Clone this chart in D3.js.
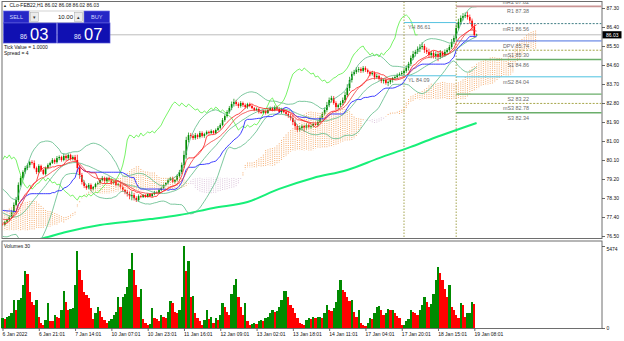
<!DOCTYPE html>
<html>
<head>
<meta charset="utf-8">
<script src="https://cdn.jsdelivr.net/npm/d3@7"></script>
<style>
body { margin: 0; background: #fff; }
svg { display: block; font-family: "Liberation Sans", Arial, sans-serif; }
</style>
</head>
<body>
<svg id="chart" width="624" height="341"></svg>
<script>
// hourly bars before the visible window (only feed the indicators)
const preCloses = [
    75.62, 75.55, 75.48, 75.40, 75.35, 75.28, 75.22, 75.30, 75.25, 75.18,
    75.25, 75.12, 75.05, 75.15, 75.10, 75.22, 75.35, 75.30, 75.22, 75.38,
    75.45, 75.40, 75.52, 75.60, 75.55, 75.70, 75.82, 75.78, 75.95, 76.10,
    76.25, 76.40, 76.55, 76.70, 76.85, 77.00, 77.15, 77.30, 77.45, 77.58,
    77.70, 77.78, 77.85, 77.92, 78.02, 77.95, 78.08, 78.15, 78.22, 78.30,
    78.25, 78.36, 78.42, 78.50, 78.44, 78.38, 78.45, 78.30, 78.22, 78.35,
    78.28, 78.40, 78.32, 78.20, 78.25, 78.10, 78.02, 77.85, 77.60, 77.40,
    77.22, 77.05, 76.98, 77.10, 77.02, 76.92, 77.00, 77.08
];

const closes = [
    77.03, 77.17, 77.26, 77.40, 77.64, 77.97, 78.20, 78.92, 79.25, 79.53,
    79.72, 79.86, 80.00, 79.96, 79.72, 79.53, 79.82, 79.63, 79.44, 79.72,
    79.86, 79.96, 80.10, 80.00, 80.19, 80.24, 80.10, 80.29, 80.19, 80.34,
    80.15, 80.24, 80.10, 79.72, 79.39, 79.06, 78.87, 78.77, 78.92, 78.72,
    78.82, 78.96, 79.01, 79.15, 79.25, 79.10, 79.25, 79.15, 79.01, 79.06,
    78.92, 78.96, 78.82, 78.68, 78.58, 78.49, 78.39, 78.44, 78.30, 78.20,
    78.39, 78.35, 78.44, 78.35, 78.49, 78.39, 78.49, 78.58, 78.54, 78.68,
    78.77, 78.92, 79.01, 79.15, 79.25, 79.06, 79.15, 79.34, 79.53, 79.86,
    80.34, 81.05, 81.28, 81.24, 81.14, 81.28, 81.19, 81.38, 81.24, 81.33,
    81.43, 81.38, 81.47, 81.38, 81.52, 81.62, 81.76, 81.99, 82.18, 82.37,
    82.56, 82.75, 82.85, 82.75, 82.66, 82.80, 82.70, 82.61, 82.75, 82.66,
    82.56, 82.47, 82.52, 82.37, 82.33, 82.42, 82.33, 82.47, 82.56, 82.47,
    82.61, 82.52, 82.37, 82.47, 82.37, 82.28, 82.18, 82.09, 81.90, 81.71,
    81.52, 81.62, 81.71, 81.62, 81.76, 81.66, 81.71, 81.81, 81.76, 81.90,
    82.09, 82.28, 82.47, 82.70, 82.94, 83.04, 82.80, 82.61, 82.70, 82.80,
    82.94, 83.18, 83.51, 83.89, 84.17, 84.27, 84.36, 84.41, 84.32, 84.46,
    84.36, 84.27, 84.17, 84.22, 84.03, 84.08, 83.94, 83.84, 83.89, 83.75,
    83.79, 83.89, 83.98, 84.03, 84.13, 84.17, 84.22, 84.32, 84.46, 84.65,
    84.93, 85.12, 85.22, 85.36, 85.45, 85.50, 85.31, 85.22, 85.07, 85.17,
    85.03, 85.12, 84.98, 85.17, 85.07, 85.22, 85.31, 85.45, 85.69, 85.88,
    86.35, 86.64, 86.83, 86.92, 86.97, 86.87, 86.70, 86.42, 86.02, 86.03
];

// wicks above / below the body, in cents
const wickUp = [
    4, 5, 6, 8, 10, 12, 15, 12, 10, 8,   10, 8, 6, 9, 12, 7, 8, 6, 5, 7,
    8, 6, 9, 7, 10, 8, 6, 12, 8, 7,      6, 8, 10, 25, 15, 10, 8, 6, 9, 7,
    5, 6, 8, 7, 9, 6, 5, 7, 6, 8,        6, 5, 7, 8, 6, 10, 12, 18, 10, 8,
    8, 6, 5, 4, 3, 4, 6, 5, 4, 6,        5, 6, 4, 7, 5, 6, 4, 8, 10, 12,
    20, 15, 12, 10, 8, 10, 7, 9, 8, 6,   7, 6, 8, 5, 7, 9, 8, 10, 8, 9,
    10, 12, 15, 10, 8, 9, 7, 8, 6, 7,    6, 5, 7, 4, 5, 6, 4, 5, 7, 6,
    7, 6, 8, 10, 7, 9, 12, 10, 15, 12,   8, 10, 7, 6, 9, 5, 7, 6, 8, 7,
    8, 10, 12, 15, 12, 10, 9, 8, 7, 10,  12, 15, 18, 15, 12, 10, 14, 10, 8, 9,
    8, 7, 6, 9, 8, 10, 7, 8, 6, 9,       7, 8, 6, 9, 7, 8, 10, 9, 12, 10,
    12, 15, 10, 12, 14, 18, 10, 12, 15, 10, 10, 12, 9, 14, 10, 12, 9, 11, 14, 12,
    18, 15, 12, 14, 12, 16, 12, 10, 12, 5
];
const wickDown = [
    6, 5, 4, 6, 5, 8, 6, 10, 8, 7,       8, 10, 12, 8, 6, 10, 7, 9, 6, 8,
    6, 8, 5, 9, 7, 10, 8, 6, 12, 9,      8, 7, 12, 20, 18, 12, 10, 8, 6, 9,
    6, 8, 5, 7, 6, 9, 7, 5, 8, 6,        7, 6, 8, 9, 10, 12, 15, 20, 12, 9,
    7, 6, 5, 4, 3, 5, 4, 6, 5, 4,        6, 4, 5, 6, 4, 5, 6, 5, 8, 10,
    15, 18, 12, 10, 9, 8, 10, 7, 8, 9,   6, 8, 5, 7, 6, 5, 7, 6, 8, 7,
    8, 10, 12, 9, 10, 8, 9, 7, 8, 6,     5, 6, 4, 7, 5, 6, 8, 5, 4, 6,
    6, 7, 5, 8, 6, 10, 8, 12, 15, 18,    10, 8, 12, 20, 9, 7, 8, 6, 5, 7,
    6, 8, 7, 9, 10, 12, 8, 15, 10, 9,    10, 12, 10, 14, 12, 8, 9, 11, 10, 8,
    9, 8, 10, 7, 12, 9, 8, 10, 12, 8,    15, 10, 12, 8, 9, 7, 8, 10, 9, 12,
    10, 9, 12, 10, 15, 12, 14, 10, 12, 15, 12, 15, 20, 10, 12, 9, 10, 8, 9, 10,
    12, 10, 14, 12, 10, 12, 15, 18, 14, 0
];

const volumes = [
    657, 590, 720, 810, 985, 1860, 1200, 1860, 1970, 2850,
    3830, 3610, 2410, 1750, 1530, 1860, 720, 330, 220, 550,
    1640, 500, 440, 875, 720, 635, 1200, 2470, 1750, 1200,
    1270, 1310, 2850, 5150, 3900, 3180, 2410, 2190, 1970, 1310,
    590, 1030, 1420, 1160, 720, 550, 330, 440, 590, 875,
    1095, 2080, 1380, 2080, 2300, 2740, 3940, 5040, 3880, 2850,
    2080, 2630, 590, 330, 220, 285, 1360, 657, 590, 440,
    875, 720, 657, 1095, 1800, 1640, 1095, 985, 1200, 2080,
    5474, 3830, 4450, 2050, 2150, 985, 657, 440, 220, 550,
    1200, 590, 720, 330, 657, 550, 875, 1640, 1420, 1095,
    875, 2300, 2850, 3240, 2080, 1420, 875, 1640, 440, 220,
    285, 330, 260, 500, 550, 480, 657, 765, 985, 1200,
    1095, 1140, 1420, 1860, 2470, 2480, 2080, 1530, 1310, 985,
    657, 330, 285, 220, 550, 657, 590, 720, 657, 720,
    760, 657, 985, 1530, 1200, 1160, 1310, 1750, 2520, 3180,
    2520, 2370, 2080, 1820, 1860, 1095, 765, 1200, 330, 220,
    110, 330, 657, 590, 985, 1380, 1470, 1200, 875, 985,
    1270, 1200, 1210, 985, 810, 657, 220, 230, 440, 590,
    1200, 1095, 985, 875, 1200, 1530, 2080, 1750, 1420, 1600,
    2300, 3180, 4050, 3660, 3180, 2630, 2080, 2850, 1420, 1200,
    875, 657, 1690, 1530, 765, 985, 990, 1750, 1600, 30
];

// long moving average, read at a few bars
const slowMaBars = [0, 18, 28, 43, 58, 65, 78, 93, 108, 122, 137, 152, 166, 180, 188, 209];
const slowMaValues = [76.05, 76.40, 76.69, 77.02, 77.21, 77.30, 77.49, 77.83, 78.11, 78.73, 79.25, 79.63, 80.19, 80.72, 81.05, 81.85];

const timeLabels = ["6 Jan 2022", "6 Jan 21:01", "7 Jan 14:01", "10 Jan 07:01", "10 Jan 23:01", "11 Jan 16:01",
    "12 Jan 09:01", "13 Jan 02:01", "13 Jan 18:01", "14 Jan 11:01", "17 Jan 04:01", "17 Jan 20:01",
    "18 Jan 15:01", "19 Jan 08:01"];
const timeLabelBars = [0, 16, 32, 48, 64, 80, 96, 112, 128, 144, 160, 176, 192, 208];
const priceTicks = [87.30, 86.40, 85.50, 84.60, 83.70, 82.80, 81.90, 81.00, 80.10, 79.20, 78.30, 77.40, 76.50];

const pivotNames = ["mR2", "R1", "mR1", "DPV", "mS1", "S1", "mS2", "S2", "mS3", "S3"];
const pivotValues = [87.82, 87.38, 86.56, 85.74, 85.30, 84.86, 84.04, 83.22, 82.78, 82.34];
const dayLevelNames = ["YH", "YL"];
const dayLevelValues = [86.61, 84.09];
const daySeparatorBars = [177, 200];

const symbolName = "CLo-FEB22,H1";
const lotSize = "10.00";
const tickValue = "1.0000";
const spreadPoints = 4;

class TerminalChart {
    constructor(selector) {
        this.svg = d3.select(selector);
        this.frame = {left: 2, right: 602, top: 1.5, mainBottom: 238.5, volTop: 241, volBottom: 328.5};
        this.scales = {};
    }

    prepare() {
        const all = preCloses.concat(closes);
        const off = preCloses.length;
        this.off = off;
        this.all = all;
        this.highs = [];
        this.lows = [];
        this.opens = [];
        all.forEach((c, k) => {
            const o = k === 0 ? c : all[k - 1];
            let h = Math.max(o, c), l = Math.min(o, c);
            if (k >= off) {
                h += wickUp[k - off] / 100;
                l -= wickDown[k - off] / 100;
            }
            this.opens.push(o);
            this.highs.push(h);
            this.lows.push(l);
        });
        this.candles = closes.map((c, i) => ({
            i: i, o: this.opens[i + off], h: this.highs[i + off], l: this.lows[i + off], c: c
        }));

        this.scales.x = d3.scaleLinear().domain([0, closes.length - 1]).range([2.5, 476.6]);
        this.scales.y = d3.scaleLinear().domain([76.5, 87.3]).range([236, 8]);
        this.scales.v = d3.scaleLinear().domain([0, d3.max(volumes)]).range([328, 246]);
    }

    mid(k, len) {
        const from = Math.max(0, k - len + 1);
        return (d3.max(this.highs.slice(from, k + 1)) + d3.min(this.lows.slice(from, k + 1))) / 2;
    }

    drawFrame() {
        const f = this.frame;
        this.svg.append("rect").attr("width", 624).attr("height", 341).attr("fill", "#fff");
        this.svg.append("rect")
            .attr("x", f.left).attr("y", f.top)
            .attr("width", f.right - f.left).attr("height", f.mainBottom - f.top)
            .attr("fill", "none").attr("stroke", "#6e6e6e").attr("stroke-width", 1);
        this.svg.append("rect")
            .attr("x", f.left).attr("y", f.volTop)
            .attr("width", f.right - f.left).attr("height", f.volBottom - f.volTop)
            .attr("fill", "none").attr("stroke", "#6e6e6e").attr("stroke-width", 1);

        const defs = this.svg.append("defs");
        defs.append("clipPath").attr("id", "mainClip").append("rect")
            .attr("x", f.left + 0.5).attr("y", f.top + 0.5)
            .attr("width", f.right - f.left - 1).attr("height", f.mainBottom - f.top - 1);
        this.main = this.svg.append("g").attr("clip-path", "url(#mainClip)");
    }

    drawAxes() {
        const f = this.frame;
        const yAxis = this.svg.append("g")
            .attr("transform", "translate(" + f.right + ",0)")
            .call(d3.axisRight(this.scales.y).tickValues(priceTicks).tickSize(3).tickPadding(1.5)
                .tickFormat(d3.format(".2f")));
        const vAxis = this.svg.append("g")
            .attr("transform", "translate(" + f.right + ",0)")
            .call(d3.axisRight(this.scales.v).tickValues([0, d3.max(volumes)]).tickSize(3).tickPadding(1.5)
                .tickFormat(d3.format("d")));
        const xAxis = this.svg.append("g")
            .attr("transform", "translate(0," + f.volBottom + ")")
            .call(d3.axisBottom(this.scales.x).tickValues(timeLabelBars).tickSize(2.5).tickPadding(1.5)
                .tickFormat((d, i) => timeLabels[i]));
        xAxis.selectAll("text").attr("text-anchor", "start").attr("dx", "-0.4");
        [yAxis, vAxis, xAxis].forEach(g => {
            g.select(".domain").remove();
            g.attr("font-family", null).attr("font-size", null);
            g.selectAll("text").attr("font-size", 5).attr("fill", "#111");
            g.selectAll("line").attr("stroke", "#444").attr("stroke-width", 0.8);
        });
        vAxis.selectAll(".tick").filter(d => d > 0).select("text").attr("dy", "0.9em");

        // current price marker
        const last = closes[closes.length - 1];
        const yl = this.scales.y(last);
        this.svg.append("rect").attr("x", f.right + 0.5).attr("y", yl - 3.6)
            .attr("width", 19).attr("height", 7.2).attr("fill", "#000");
        this.svg.append("text").attr("x", f.right + 4).attr("y", yl + 1.8)
            .attr("font-size", 5).attr("fill", "#fff").text(last.toFixed(2));
    }

    drawGuides() {
        const x = this.scales.x, y = this.scales.y, f = this.frame;
        const last = closes[closes.length - 1];
        this.main.append("line")
            .attr("x1", f.left).attr("x2", f.right)
            .attr("y1", y(last)).attr("y2", y(last))
            .attr("stroke", "#bdbdbd").attr("stroke-width", 1);

        this.main.selectAll(".daysep").data(daySeparatorBars).join("line")
            .attr("class", "daysep")
            .attr("x1", d => x(d)).attr("x2", d => x(d))
            .attr("y1", f.top).attr("y2", f.mainBottom)
            .attr("stroke", "#9a9a3c").attr("stroke-width", 0.9)
            .attr("stroke-dasharray", "1.5,1.5");
    }

    drawCloud() {
        const x = this.scales.x, y = this.scales.y, off = this.off;
        const cloud = d3.range(0, closes.length + 26).map(j => {
            const k = j - 26 + off;
            const a = (this.mid(k, 9) + this.mid(k, 26)) / 2;
            const b = this.mid(k, 52);
            return {j: j, a: a, b: b};
        });
        this.main.selectAll(".kumo").data(cloud).join("line")
            .attr("class", "kumo")
            .attr("x1", d => x(d.j)).attr("x2", d => x(d.j))
            .attr("y1", d => y(d.a)).attr("y2", d => y(d.b))
            .attr("stroke", d => d.a >= d.b ? "#f4a460" : "#d8bfd8")
            .attr("stroke-width", 0.9)
            .attr("stroke-dasharray", "1,1.1");
    }

    drawCandles() {
        const x = this.scales.x, y = this.scales.y;
        const col = d => d.c >= d.o ? "#008a00" : "#ff0000";
        this.main.selectAll(".wick").data(this.candles).join("line")
            .attr("class", "wick")
            .attr("x1", d => x(d.i)).attr("x2", d => x(d.i))
            .attr("y1", d => y(d.h)).attr("y2", d => y(d.l))
            .attr("stroke", col).attr("stroke-width", 0.7);
        this.main.selectAll(".body").data(this.candles).join("rect")
            .attr("class", "body")
            .attr("x", d => x(d.i) - 0.8).attr("width", 1.6)
            .attr("y", d => y(Math.max(d.o, d.c)))
            .attr("height", d => Math.max(0.8, Math.abs(y(d.o) - y(d.c))))
            .attr("fill", col);
    }

    drawIndicators() {
        const x = this.scales.x, y = this.scales.y, off = this.off;
        const line = d3.line().x(d => x(d.i)).y(d => y(d.v));
        const path = (data, color, width, curve) => this.main.append("path")
            .datum(data)
            .attr("d", curve ? line.curve(curve)(data) : line.curve(d3.curveLinear)(data))
            .attr("fill", "none").attr("stroke", color).attr("stroke-width", width);

        const slow = slowMaBars.map((b, n) => ({i: b, v: slowMaValues[n]}));
        path(slow, "#17ef78", 2, d3.curveMonotoneX);

        const upper = [], middle = [], lower = [];
        closes.forEach((c, i) => {
            const win = this.all.slice(i + off - 19, i + off + 1);
            const m = d3.mean(win);
            const sd = Math.sqrt(d3.mean(win, v => (v - m) * (v - m)));
            upper.push({i: i, v: m + 2 * sd});
            middle.push({i: i, v: m});
            lower.push({i: i, v: m - 2 * sd});
        });
        [upper, middle, lower].forEach(b => path(b, "#5cba86", 0.8));

        const chikou = d3.range(0, closes.length - 26).map(i => ({i: i, v: closes[i + 26]}));
        path(chikou, "#55f040", 0.8);

        const kijun = closes.map((c, i) => ({i: i, v: this.mid(i + off, 26)}));
        path(kijun, "#2a2aff", 0.9);

        let ema = this.all[0];
        const alpha = 2 / (14 + 1);
        const emaLine = [];
        this.all.forEach((c, k) => {
            ema = ema + alpha * (c - ema);
            if (k >= off) emaLine.push({i: k - off, v: ema});
        });
        path(emaLine, "#f03c3c", 0.8);

        const tenkan = closes.map((c, i) => ({i: i, v: this.mid(i + off, 9)}));
        path(tenkan, "#ff1a1a", 0.8);
    }

    drawLevels() {
        const x = this.scales.x, y = this.scales.y, f = this.frame;
        const style = {
            mR2: {c: "#3f7d84", w: 1, d: "2,1.5"},
            R1: {c: "#c99595", w: 1.8, d: null},
            mR1: {c: "#3f7d84", w: 1, d: "2,1.5"},
            DPV: {c: "#4a6fe0", w: 1, d: null},
            mS1: {c: "#a6a64a", w: 1, d: "2,1.5"},
            S1: {c: "#6aae6a", w: 1.4, d: null},
            mS2: {c: "#4cc2e0", w: 1, d: null},
            S2: {c: "#6aae6a", w: 1.4, d: null},
            mS3: {c: "#a6a64a", w: 1, d: "2,1.5"},
            S3: {c: "#6aae6a", w: 1.4, d: null}
        };
        const start = x(daySeparatorBars[1]);
        const levels = pivotNames.map((n, k) => ({n: n, v: pivotValues[k]}));
        this.main.selectAll(".pivot").data(levels).join("line")
            .attr("class", "pivot")
            .attr("x1", start).attr("x2", f.right)
            .attr("y1", d => y(d.v)).attr("y2", d => y(d.v))
            .attr("stroke", d => style[d.n].c)
            .attr("stroke-width", d => style[d.n].w)
            .attr("stroke-dasharray", d => style[d.n].d);
        this.main.selectAll(".pivotLabel").data(levels).join("text")
            .attr("class", "pivotLabel")
            .attr("x", 529).attr("y", d => y(d.v) + 7)
            .attr("text-anchor", "end").attr("font-size", 5.4).attr("fill", "#6a6a6a")
            .text(d => d.n + " " + d.v.toFixed(2));

        const days = dayLevelNames.map((n, k) => ({n: n, v: dayLevelValues[k]}));
        this.main.selectAll(".dayLevel").data(days).join("line")
            .attr("class", "dayLevel")
            .attr("x1", x(daySeparatorBars[0])).attr("x2", x(daySeparatorBars[1]))
            .attr("y1", d => y(d.v)).attr("y2", d => y(d.v))
            .attr("stroke", "#55c3e0").attr("stroke-width", 1);
        this.main.selectAll(".dayLabel").data(days).join("text")
            .attr("class", "dayLabel")
            .attr("x", x(daySeparatorBars[0]) + 4).attr("y", d => y(d.v) + 6.5)
            .attr("font-size", 5.4).attr("fill", "#6a6a6a")
            .text(d => d.n + " " + d.v.toFixed(2));
    }

    drawVolumes() {
        const x = this.scales.x, v = this.scales.v;
        const bars = volumes.map((q, i) => ({i: i, q: q, up: i === 0 || q > volumes[i - 1]}));
        this.svg.append("g").selectAll("rect").data(bars).join("rect")
            .attr("x", d => x(d.i) - 1.14).attr("width", 2.28)
            .attr("y", d => v(d.q)).attr("height", d => v(0) - v(d.q))
            .attr("fill", d => d.up ? "#008a00" : "#ff0000")
            .attr("shape-rendering", "crispEdges");
        this.svg.append("text").attr("x", 4).attr("y", this.frame.volTop + 6.5)
            .attr("font-size", 5).attr("fill", "#111")
            .text("Volumes " + volumes[volumes.length - 1]);
    }

    drawTradePanel() {
        const last = this.candles[this.candles.length - 1];
        const g = this.svg.append("g");
        g.append("text").attr("x", 3).attr("y", 6.5).attr("font-size", 4).attr("fill", "#222").text("\u25B2");
        g.append("text").attr("x", 9.5).attr("y", 6.8).attr("font-size", 5).attr("fill", "#111")
            .text(symbolName + " " + [last.o, last.h, last.l, last.c].map(p => p.toFixed(2)).join(" "));

        const btn = (bx, w, label) => {
            g.append("rect").attr("x", bx).attr("y", 11).attr("width", w).attr("height", 12)
                .attr("fill", "#2626c6").attr("stroke", "#6b6be6").attr("stroke-width", 0.7);
            g.append("text").attr("x", bx + w / 2).attr("y", 19).attr("text-anchor", "middle")
                .attr("font-size", 5.6).attr("fill", "#cfd3ff").text(label);
        };
        btn(3.5, 25.5, "SELL");
        btn(84, 25.5, "BUY");

        g.append("rect").attr("x", 29.5).attr("y", 11).attr("width", 54).attr("height", 11.5)
            .attr("fill", "#fff").attr("stroke", "#b5b5b5").attr("stroke-width", 0.6);
        [[30.5, "\u25BE"], [74.5, "\u25B4"]].forEach(([bx, glyph]) => {
            g.append("rect").attr("x", bx).attr("y", 12.3).attr("width", 8).attr("height", 9)
                .attr("fill", "#ececec").attr("stroke", "#a8a8a8").attr("stroke-width", 0.5);
            g.append("text").attr("x", bx + 4).attr("y", 18.8).attr("text-anchor", "middle")
                .attr("font-size", 4.5).attr("fill", "#333").text(glyph);
        });
        g.append("text").attr("x", 73).attr("y", 19).attr("text-anchor", "end")
            .attr("font-size", 6).attr("fill", "#111").text(lotSize);

        const bid = last.c, ask = last.c + spreadPoints / 100;
        const box = (bx, w, price) => {
            const s = price.toFixed(2).split(".");
            g.append("rect").attr("x", bx).attr("y", 23).attr("width", w).attr("height", 20)
                .attr("fill", "#1010b2").attr("stroke", "#5656d6").attr("stroke-width", 0.7);
            g.append("text").attr("x", bx + 16.5).attr("y", 38.5).attr("font-size", 6.5)
                .attr("fill", "#e6e8ff").text(s[0]);
            g.append("text").attr("x", bx + 26.5).attr("y", 39.8).attr("font-size", 16.5)
                .attr("fill", "#ffffff").text(s[1]);
        };
        box(3.5, 53, bid);
        box(57.5, 52.5, ask);

        g.append("text").attr("x", 4).attr("y", 48.6).attr("font-size", 5).attr("fill", "#111")
            .text("Tick Value = " + tickValue);
        g.append("text").attr("x", 4).attr("y", 55.3).attr("font-size", 5).attr("fill", "#111")
            .text("Spread = " + spreadPoints);
    }

    render() {
        this.prepare();
        this.drawFrame();
        this.drawGuides();
        this.drawCandles();
        this.drawCloud();
        this.drawIndicators();
        this.drawLevels();
        this.drawVolumes();
        this.drawAxes();
        this.drawTradePanel();
    }
}

new TerminalChart("#chart").render();
</script>
</body>
</html>
